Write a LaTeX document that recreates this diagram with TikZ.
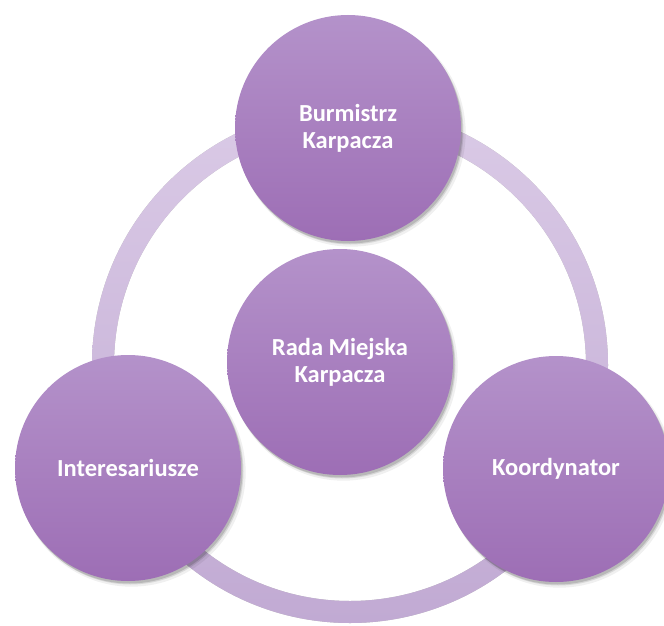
\documentclass[tikz,border=0pt]{standalone}
\usepackage{fontspec}
\setmainfont{Carlito}
\usetikzlibrary{shadows}
\definecolor{bubtop}{RGB}{180,146,202}
\definecolor{bubbot}{RGB}{157,110,181}
\definecolor{ringtop}{RGB}{218,202,230}
\definecolor{ringbot}{RGB}{193,170,211}
\tikzset{
  softshadow/.style={
    general shadow={shadow xshift=3.5pt,shadow yshift=-4.5pt,shadow scale=1.01,fill=black,opacity=.06},
    general shadow={shadow xshift=2.5pt,shadow yshift=-3.5pt,fill=black,opacity=.10},
    general shadow={shadow xshift=1.5pt,shadow yshift=-2.5pt,fill=black,opacity=.14}},
  bubble/.style={circle,minimum size=226pt,inner sep=0pt,align=center,
    top color=bubtop,bottom color=bubbot,draw=none,softshadow,
    text=white,font=\bfseries\fontsize{24.5}{27}\selectfont}
}
\begin{document}
\begin{tikzpicture}[x=1pt,y=-1pt]
\useasboundingbox[fill=white] (0,0) rectangle (664,626);
\coordinate (rc) at (350,365);
% ring shadow
\foreach \dx/\dy/\op in {3.5/4.5/.06,2.5/3.5/.10,1.5/2.5/.14}{
  \fill[black,opacity=\op,even odd rule,shift={(\dx,\dy)}] (rc) circle[radius=258] (rc) circle[radius=236];
}
% ring
\shade[even odd rule,top color=ringtop,bottom color=ringbot] (rc) circle[radius=258] (rc) circle[radius=236];
% bubbles
\node[bubble] (top) at (348,128) {Burmistrz\\Karpacza};
\node[bubble] (mid) at (340,362) {Rada Miejska\\Karpacza};
\node[bubble] (left) at (128,468) {Interesariusze};
\node[bubble] (right) at (556,469) {Koordynator};
\end{tikzpicture}
\end{document}
